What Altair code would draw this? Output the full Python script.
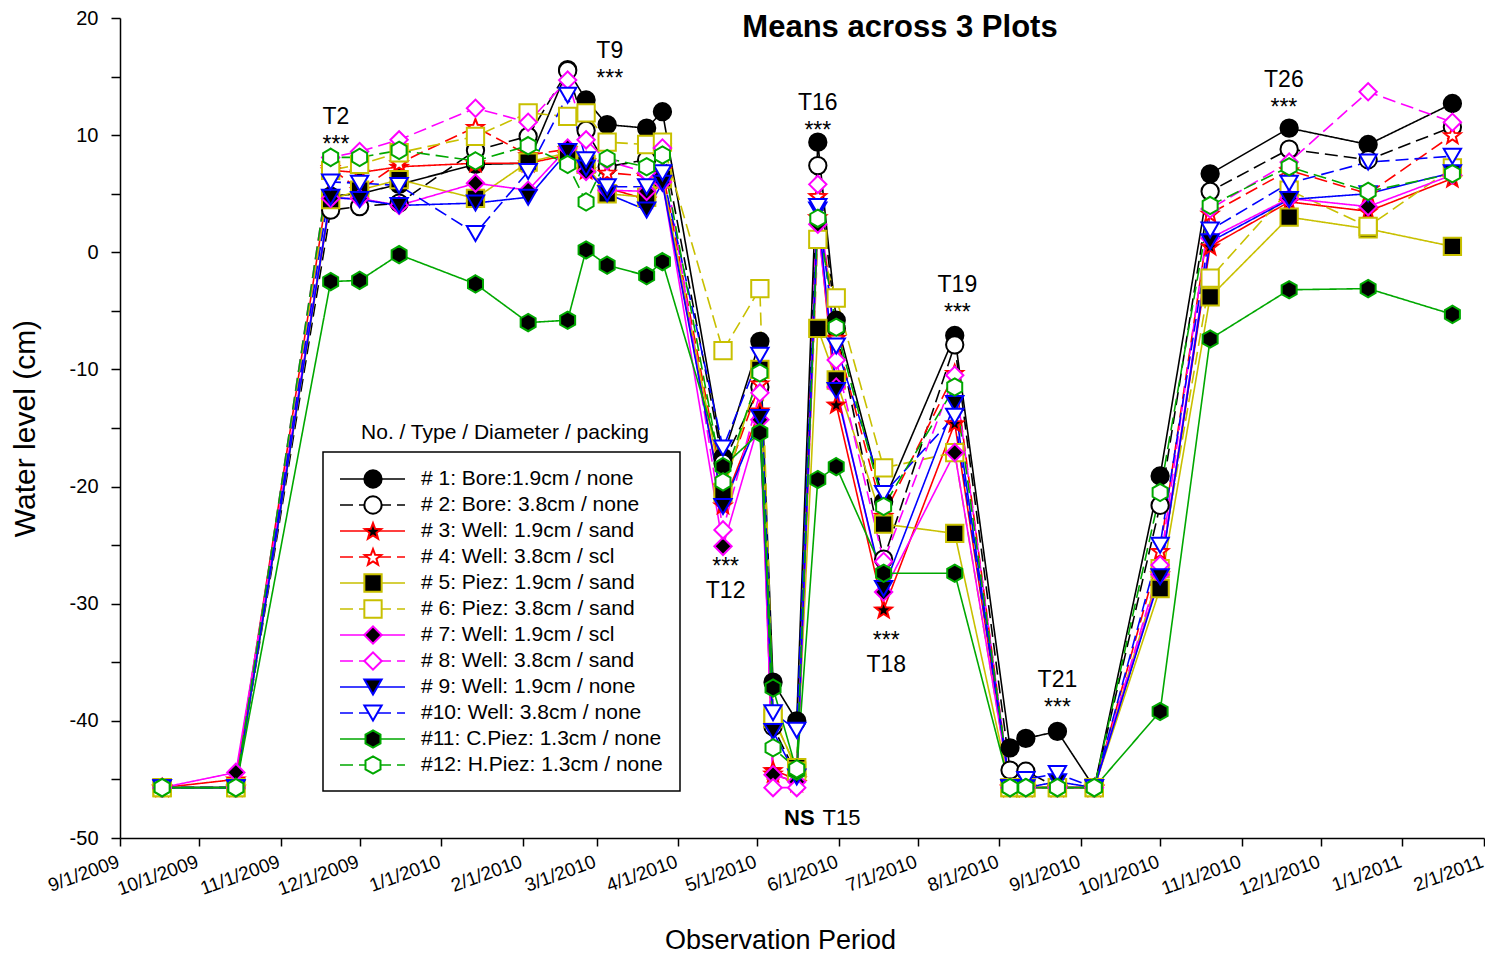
import math
import altair as alt
import pandas as pd

# ---------------- data ----------------
dates = ["2009-09-17", "2009-10-15", "2009-11-20", "2009-12-01", "2009-12-16",
         "2010-01-14", "2010-02-03", "2010-02-18", "2010-02-25", "2010-03-05",
         "2010-03-20", "2010-03-26", "2010-04-18", "2010-05-02", "2010-05-07",
         "2010-05-16", "2010-05-24", "2010-05-31", "2010-06-18", "2010-07-15",
         "2010-08-05", "2010-08-11", "2010-08-23", "2010-09-06", "2010-10-01",
         "2010-10-20", "2010-11-19", "2010-12-19", "2011-01-20"]

s01 = [-45.7, -45.7, 4.8, 5.0, 5.8, 7.5, 7.6, 15.6, 13.0, 10.9, 10.6, 12.0, -17.5, -7.6, -36.7,
       -40.0, 9.4, -5.8, -21.3, -7.1, -42.3, -41.5, -40.9, -45.7, -19.1, 6.7, 10.6, 9.2, 12.7]
s02 = [-45.7, -45.7, 3.6, 3.9, 4.2, 8.7, 9.9, 15.5, 10.4, 7.3, 7.9, 9.3, -18.0, -11.5, -40.5,
       -44.6, 7.4, -6.5, -26.2, -7.9, -44.2, -44.3, -45.7, -45.7, -21.6, 5.2, 8.8, 7.9, 10.7]
s03 = [-45.7, -45.0, 7.0, 6.8, 7.3, 7.6, 7.6, 8.3, 7.0, 5.5, 4.5, 6.2, -21.6, -13.5, -44.2,
       -45.0, 3.0, -13.0, -30.5, -14.6, -45.7, -45.7, -45.7, -45.7, -27.5, 0.5, 4.3, 3.5, 6.3]
s04 = [-45.7, -45.7, 7.2, 5.3, 7.6, 10.7, 8.3, 8.8, 7.8, 6.8, 6.5, 7.0, -20.0, -11.2, -44.5,
       -45.3, 4.8, -7.3, -22.5, -10.3, -45.7, -45.7, -45.7, -45.7, -25.5, 3.3, 7.0, 5.0, 10.0]
s05 = [-45.7, -45.7, 4.5, 5.3, 6.2, 4.6, 7.7, 8.5, 7.5, 5.0, 4.7, 6.3, -20.5, -10.0, -39.8,
       -44.0, -6.5, -10.9, -23.2, -24.0, -45.7, -45.7, -45.7, -45.7, -28.7, -3.8, 3.0, 2.0, 0.5]
s06 = [-45.7, -45.7, 7.0, 7.5, 8.5, 9.9, 11.9, 11.6, 11.9, 9.4, 9.2, 9.4, -8.4, -3.1, -39.5,
       -44.3, 1.1, -3.9, -18.4, -17.1, -45.7, -45.7, -45.7, -45.7, -27.0, -2.2, 5.3, 2.2, 7.2]
s07 = [-45.7, -44.4, 4.6, 4.6, 4.0, 5.9, 5.3, 8.9, 6.9, 5.3, 5.2, 6.0, -25.1, -14.3, -44.6,
       -45.2, 2.4, -11.5, -29.0, -17.1, -45.7, -45.7, -45.7, -45.7, -27.5, 1.2, 4.6, 3.9, 6.6]
s08 = [-45.7, -45.7, 8.1, 8.6, 9.6, 12.3, 11.1, 14.7, 9.6, 7.8, 6.8, 8.9, -23.7, -12.0, -45.7,
       -45.7, 5.8, -9.2, -26.4, -10.5, -45.7, -45.7, -45.7, -45.7, -26.7, 3.7, 7.7, 13.7, 11.1]
s09 = [-45.7, -45.7, 4.7, 4.5, 4.0, 4.2, 4.7, 8.6, 7.2, 5.0, 3.6, 5.9, -21.7, -14.1, -40.9,
       -44.8, 3.6, -11.8, -28.7, -12.9, -45.7, -45.7, -45.2, -45.7, -27.7, 0.9, 4.5, 5.0, 6.8]
s10 = [-45.7, -45.7, 6.0, 5.9, 5.7, 1.6, 6.9, 13.4, 7.9, 5.6, 5.6, 6.8, -16.7, -8.8, -39.3,
       -40.8, 3.9, -8.0, -20.6, -14.0, -45.7, -45.0, -44.5, -45.7, -25.0, 1.9, 5.9, 7.7, 8.2]
s11 = [-45.7, -45.7, -2.5, -2.4, -0.2, -2.7, -6.0, -5.8, 0.2, -1.1, -2.0, -0.8, -18.3, -15.4, -37.2,
       -44.3, -19.4, -18.3, -27.4, -27.4, -45.7, -45.7, -45.7, -45.7, -39.2, -7.4, -3.2, -3.1, -5.3]
s12 = [-45.7, -45.7, 8.1, 8.1, 8.7, 7.8, 9.1, 7.5, 4.3, 8.0, 7.3, 8.3, -19.6, -10.3, -42.3,
       -44.1, 2.9, -6.4, -21.7, -11.5, -45.7, -45.7, -45.7, -45.7, -20.5, 4.0, 7.3, 5.2, 6.7]

series_ids = ["s01", "s02", "s03", "s04", "s05", "s06", "s07", "s08", "s09", "s10", "s11", "s12"]
series_vals = [s01, s02, s03, s04, s05, s06, s07, s08, s09, s10, s11, s12]
labels = ["# 1: Bore:1.9cm / none", "# 2: Bore: 3.8cm / none", "# 3: Well: 1.9cm / sand",
          "# 4: Well: 3.8cm / scl", "# 5: Piez: 1.9cm / sand", "# 6: Piez: 3.8cm / sand",
          "# 7: Well: 1.9cm / scl", "# 8: Well: 3.8cm / sand", "# 9: Well: 1.9cm / none",
          "#10: Well: 3.8cm / none", "#11: C.Piez: 1.3cm / none", "#12: H.Piez: 1.3cm / none"]

# treatment tags with the significance stars below them (text, date, value of first baseline)
above_text = ["T2\n***", "T9\n***", "T16\n***", "T19\n***", "T21\n***", "T26\n***"]
above_date = ["2009-11-22", "2010-03-06", "2010-05-24", "2010-07-16", "2010-08-23", "2010-11-17"]
above_value = [10.93, 16.59, 12.15, -3.36, -37.08, 14.14]
# tags with the stars above them
below_text = ["***\nT12", "***\nT18"]
below_date = ["2010-04-19", "2010-06-19"]
below_value = [-27.49, -33.76]
# NS / T15
ns_date, ns_value = ["2010-05-17"], [-48.3]
t15_date, t15_value = ["2010-06-02"], [-48.3]

# ---------------- styles ----------------
def star_path(inner=0.42):
    pts = []
    for i in range(10):
        r = 1.0 if i % 2 == 0 else inner
        a = -math.pi / 2 + i * math.pi / 5
        pts.append(f"{r*math.cos(a):.3f},{r*math.sin(a)+0.08:.3f}")
    return "M" + "L".join(pts) + "Z"

HEX = "M0,-1L0.866,-0.5L0.866,0.5L0,1L-0.866,0.5L-0.866,-0.5Z"
STAR = star_path()
colors = ["#000000", "#000000", "#ff0000", "#ff0000", "#c8c000", "#c8c000",
          "#ff00ff", "#ff00ff", "#0000ff", "#0000ff", "#00a800", "#00a800"]
fills = ["black", "white"] * 6
solid, dashed = [1, 0], [13, 6]
dashes = [solid, dashed] * 6
shapes = ["circle", "circle", STAR, STAR, "square", "square", "diamond", "diamond",
          "triangle-down", "triangle-down", HEX, HEX]
sizes = [300, 300, 390, 390, 235, 235, 390, 390, 310, 310, 330, 330]

rows = []
for sid, vals in zip(series_ids, series_vals):
    for d, v in zip(dates, vals):
        rows.append({"series": sid, "date": d + "T00:00:00", "value": v})
df = pd.DataFrame(rows)


def tdf(texts, ds, vs):
    return pd.DataFrame({"t": texts, "date": [d + "T00:00:00" for d in ds], "value": vs})


leg_df = pd.DataFrame({"series": series_ids, "lrow": list(range(12)), "label": labels})

FONT = "Liberation Sans"

stroke_enc = alt.Stroke("series:N", scale=alt.Scale(domain=series_ids, range=colors), legend=None)
dash_enc = alt.StrokeDash("series:N", scale=alt.Scale(domain=series_ids, range=dashes), legend=None)
fill_enc = alt.Fill("series:N", scale=alt.Scale(domain=series_ids, range=fills), legend=None)
shape_enc = alt.Shape("series:N", scale=alt.Scale(domain=series_ids, range=shapes), legend=None)
size_enc = alt.Size("series:O", scale=alt.Scale(domain=series_ids, range=sizes), legend=None)

months = []
y, m = 2009, 9
while (y, m) <= (2011, 2):
    months.append(alt.DateTime(year=y, month=m, date=1))
    m += 1
    if m > 12:
        m, y = 1, y + 1

x_enc = alt.X("date:T",
              scale=alt.Scale(domain=[alt.DateTime(year=2009, month=9, date=1),
                                      alt.DateTime(year=2011, month=2, date=1)]),
              axis=alt.Axis(values=months, format="%-m/%-d/%Y", labelAngle=340,
                            labelAlign="right", labelBaseline="top", labelFontSize=19,
                            tickSize=8, labelPadding=6, labelOffset=-5, labelOverlap=False,
                            labelFlush=False,
                            titleFontSize=27, titleFontWeight="normal", titleX=660, titleY=102,
                            titleBaseline="middle"),
              title="Observation Period")
y_enc = alt.Y("value:Q", scale=alt.Scale(domain=[-50, 20], nice=False, zero=False),
              axis=alt.Axis(values=list(range(-50, 25, 5)),
                            labelExpr="datum.value % 10 == 0 ? '' + datum.value : ''",
                            tickSize=9, labelPadding=13, labelFontSize=20,
                            titleFontSize=30, titleFontWeight="normal", titleX=-95, titleY=410,
                            titleAngle=270, titleAlign="center", titleBaseline="middle"),
              title="Water level (cm)")

base = alt.Chart(df)
lines = base.mark_line(strokeWidth=1.6).encode(x=x_enc, y=y_enc, stroke=stroke_enc, strokeDash=dash_enc)
points = base.mark_point(opacity=1, fillOpacity=1, strokeWidth=2).encode(
    x=x_enc, y=y_enc, stroke=stroke_enc, fill=fill_enc, shape=shape_enc, size=size_enc,
    order=alt.Order("series:N"))


def ann_layer(frame, line_height, weight="normal", align="center"):
    return alt.Chart(frame).mark_text(
        font=FONT, fontSize=23, fontWeight=weight, color="black", baseline="alphabetic",
        align=align, lineBreak="\n", lineHeight=line_height
    ).encode(x="date:T", y="value:Q", text="t:N")


ann_above = ann_layer(tdf(above_text, above_date, above_value), 28)
ann_below = ann_layer(tdf(below_text, below_date, below_value), 24)
ann_ns = alt.Chart(tdf(["NS"], ns_date, ns_value)).mark_text(
    font=FONT, fontSize=22, fontWeight="bold", color="black", baseline="middle"
).encode(x="date:T", y="value:Q", text="t:N")
ann_t15 = alt.Chart(tdf(["T15"], t15_date, t15_value)).mark_text(
    font=FONT, fontSize=22, color="black", baseline="middle"
).encode(x="date:T", y="value:Q", text="t:N")

title = alt.Chart(pd.DataFrame({"t": ["Means across 3 Plots"]})).mark_text(
    font=FONT, fontSize=31, fontWeight="bold", color="black", baseline="middle", align="center"
).encode(text="t:N", x=alt.value(780), y=alt.value(10))

main = alt.layer(lines, points, ann_above, ann_below, ann_ns, ann_t15, title)

# ---------------- legend ----------------
ly = alt.Y("lrow:Q", scale=alt.Scale(domain=[0, 11], range=[461, 747]), axis=None)
box = alt.Chart(pd.DataFrame({"a": [1]})).mark_rect(fill="white", stroke="black", strokeWidth=1.5).encode(
    x=alt.value(203), x2=alt.value(560), y=alt.value(434), y2=alt.value(773))
leg_title = alt.Chart(pd.DataFrame({"t": ["No. / Type / Diameter / packing"]})).mark_text(
    font=FONT, fontSize=21, color="black", align="center", baseline="middle"
).encode(text="t:N", x=alt.value(385), y=alt.value(415))
leg_rules = alt.Chart(leg_df).mark_rule(strokeWidth=1.6).encode(
    x=alt.value(220), x2=alt.value(285), y=ly, stroke=stroke_enc, strokeDash=dash_enc)
leg_pts = alt.Chart(leg_df).mark_point(opacity=1, fillOpacity=1, strokeWidth=2).encode(
    x=alt.value(253), y=ly, stroke=stroke_enc, fill=fill_enc, shape=shape_enc, size=size_enc)
leg_text = alt.Chart(leg_df).mark_text(font=FONT, fontSize=21, color="black", align="left",
                                       baseline="middle").encode(x=alt.value(301), y=ly, text="label:N")
legend = alt.layer(box, leg_title, leg_rules, leg_pts, leg_text)

chart = alt.layer(main, legend).resolve_scale(y="independent").properties(
    width=1364, height=820, autosize="none",
    padding={"left": 112, "top": 10, "right": 1, "bottom": 116}
).configure_axis(
    labelFont=FONT, titleFont=FONT, labelColor="black", titleColor="black",
    domainColor="black", tickColor="black", domainWidth=1.5, tickWidth=1.5, grid=False
).configure_view(stroke=None)

chart.save("out.html", embed_options={"renderer": "svg", "actions": False})
